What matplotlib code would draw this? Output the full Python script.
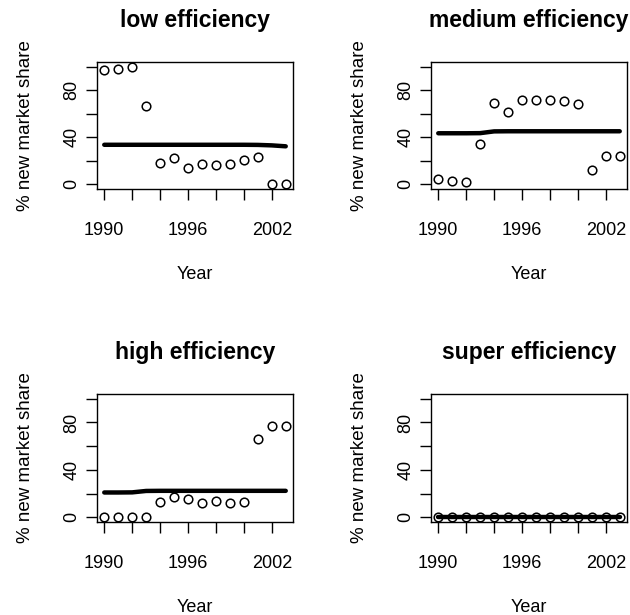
import matplotlib
matplotlib.use("Agg")
import matplotlib.pyplot as plt

years = list(range(1990, 2004))
titles = ["low efficiency", "medium efficiency", "high efficiency", "super efficiency"]

low = [97, 98, 99.4, 66.7, 18, 22, 14, 17, 16, 17, 21, 23, 0.5, 0.5]
medium = [4.5, 3, 2, 34, 69, 61.6, 71.7, 71.7, 71.7, 70.6, 68, 11.8, 24.4, 24.4]
high = [0, 0, 0, 0, 12.7, 17.5, 15.3, 12.4, 13.8, 12.4, 12.7, 65.8, 77, 77]
super_ = [0] * 14

low_fit = [33.6, 33.6, 33.6, 33.6, 33.6, 33.6, 33.6, 33.6, 33.6, 33.6, 33.6, 33.5, 33.1, 32.3]
medium_fit = [43.4, 43.4, 43.4, 43.5, 45.0, 45.1, 45.1, 45.1, 45.1, 45.1, 45.1, 45.1, 45.1, 45.1]
high_fit = [20.9, 20.9, 21.0, 22.2, 22.3, 22.3, 22.3, 22.3, 22.3, 22.3, 22.3, 22.3, 22.3, 22.3]
super_fit = [0] * 14

series = [low, medium, high, super_]
fits = [low_fit, medium_fit, high_fit, super_fit]

xticks = [1990, 1992, 1994, 1996, 1998, 2000, 2002]
xticklabels = ["1990", "", "", "1996", "", "", "2002"]
yticks = [0, 20, 40, 60, 80, 100]
yticklabels = ["0", "", "40", "", "80", ""]

plt.rcParams["font.family"] = ["Liberation Sans", "DejaVu Sans"]

W, H = 630, 615
fig = plt.figure(figsize=(W / 100, H / 100), dpi=100)

boxes = [(97, 62, 293, 189), (431, 62, 627, 189), (97, 394, 293, 522), (431, 394, 627, 522)]

for i in range(4):
    l, t, r, b = boxes[i]
    ax = fig.add_axes([l / W, 1 - b / H, (r - l) / W, (b - t) / H])
    ax.plot(years, series[i], linestyle="none", marker="o", markersize=6.2,
            markerfacecolor="none", markeredgecolor="black", markeredgewidth=1.1, zorder=2)
    ax.plot(years, fits[i], color="black", lw=3.2, solid_capstyle="round",
            solid_joinstyle="round", zorder=3)
    ax.set_xlim(1989.48, 2003.52)
    ax.set_ylim(-4, 104)
    ax.set_xticks(xticks)
    ax.set_xticklabels(xticklabels)
    ax.set_yticks(yticks)
    ax.set_yticklabels(yticklabels, rotation=90, va="center")
    ax.tick_params(axis="x", length=8, width=1, pad=16, labelsize=13)
    ax.tick_params(axis="y", length=8, width=1, pad=4, labelsize=13)
    for s in ax.spines.values():
        s.set_linewidth(1)
    ax.set_title(titles[i], fontsize=16.5, fontweight="bold", pad=25)
    ax.set_xlabel("Year", fontsize=13, labelpad=19)
    ax.set_ylabel("% new market share", fontsize=13.5, labelpad=21)

fig.savefig("out.png", dpi=100)
